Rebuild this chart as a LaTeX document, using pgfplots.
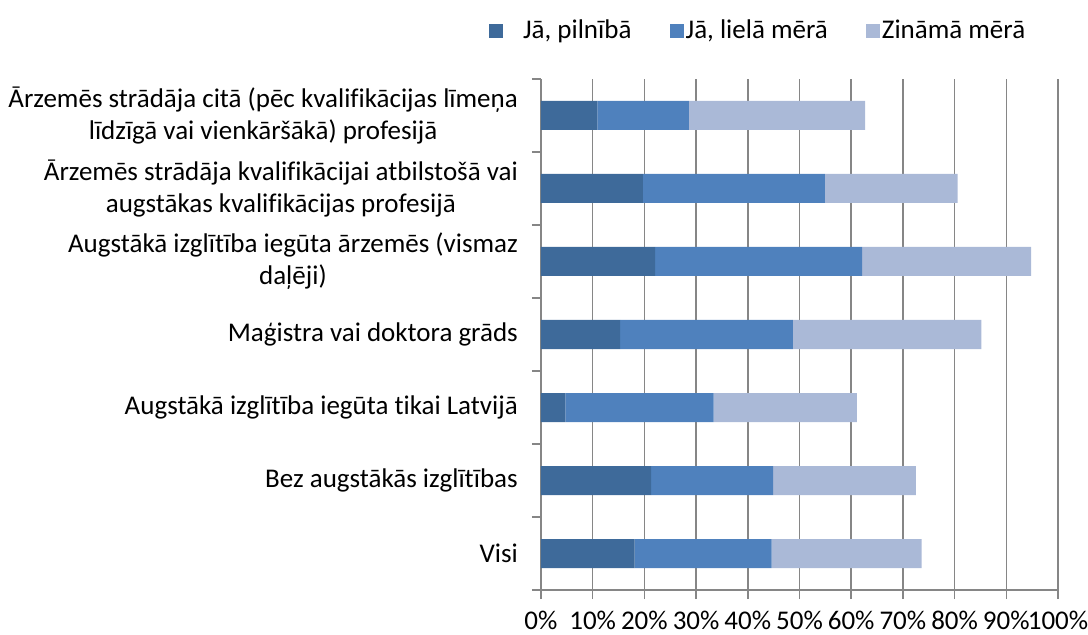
\documentclass[border=0pt]{standalone}
\usepackage{pgfplots}
\pgfplotsset{compat=1.18}
\usepackage{fontspec}
\setmainfont{Carlito}[Ligatures=NoCommon]
\definecolor{cA}{HTML}{3E6A9A}
\definecolor{cB}{HTML}{4F81BD}
\definecolor{cC}{HTML}{AAB9D7}
\definecolor{gr}{HTML}{868686}
\begin{document}
\fontsize{27}{32}\selectfont
\begin{tikzpicture}
\useasboundingbox (-541pt,-45pt) rectangle (547pt,590pt);
\begin{axis}[
  width=517pt, height=511pt, scale only axis,
  xbar stacked, bar width=29pt,
  xmin=0, xmax=100, ymin=-0.5, ymax=6.5,
  axis x line*=bottom, axis y line*=left,
  axis line style={gr, line width=1.5pt},
  xmajorgrids, grid style={gr, line width=1.5pt},
  tick align=outside, major tick length=9pt,
  tick style={gr, line width=1.5pt},
  xtick={0,10,...,100},
  xticklabels={0\%,10\%,20\%,30\%,40\%,50\%,60\%,70\%,80\%,90\%,100\%},
  xticklabel style={anchor=north, inner sep=0pt, yshift=-12pt, font=\fontsize{27}{32}\selectfont},
  ytick={-0.5,0.5,...,6.5}, yticklabels={},
  extra y ticks={0,1,2,3,4,5,6},
  extra y tick labels={Visi,Bez augstākās izglītības,Augstākā izglītība iegūta tikai Latvijā,Maģistra vai doktora grāds,Augstākā izglītība iegūta ārzemēs (vismaz\\daļēji),Ārzemēs strādāja kvalifikācijai atbilstošā vai\\augstākas kvalifikācijas profesijā,Ārzemēs strādāja citā (pēc kvalifikācijas līmeņa\\līdzīgā vai vienkāršākā) profesijā},
  extra y tick style={tick style={draw=none}},
  yticklabel style={anchor=east, align=center, inner sep=0pt, xshift=-14pt, font=\fontsize{27}{32}\selectfont},
  legend style={at={(0.42,1.094)}, anchor=center, draw=none, fill=none, inner sep=0pt,
    legend columns=3, font=\fontsize{27}{32}\selectfont,
    /tikz/every even column/.append style={column sep=36pt}},
  legend image code/.code={\path[#1] (0pt,-7pt) rectangle (14pt,7pt);},
]
\addplot[fill=cA, draw=none] coordinates {(18.1,0) (21.3,1) (4.7,2) (15.3,3) (22.1,4) (19.7,5) (10.9,6)};
\addlegendentry{\hspace{18pt}Jā, pilnībā}
\addplot[fill=cB, draw=none] coordinates {(26.5,0) (23.6,1) (28.7,2) (33.4,3) (40.0,4) (35.2,5) (17.7,6)};
\addlegendentry{Jā, lielā mērā}
\addplot[fill=cC, draw=none] coordinates {(29.0,0) (27.6,1) (27.7,2) (36.5,3) (32.7,4) (25.7,5) (34.1,6)};
\addlegendentry{Zināmā mērā}
\end{axis}
\end{tikzpicture}
\end{document}
